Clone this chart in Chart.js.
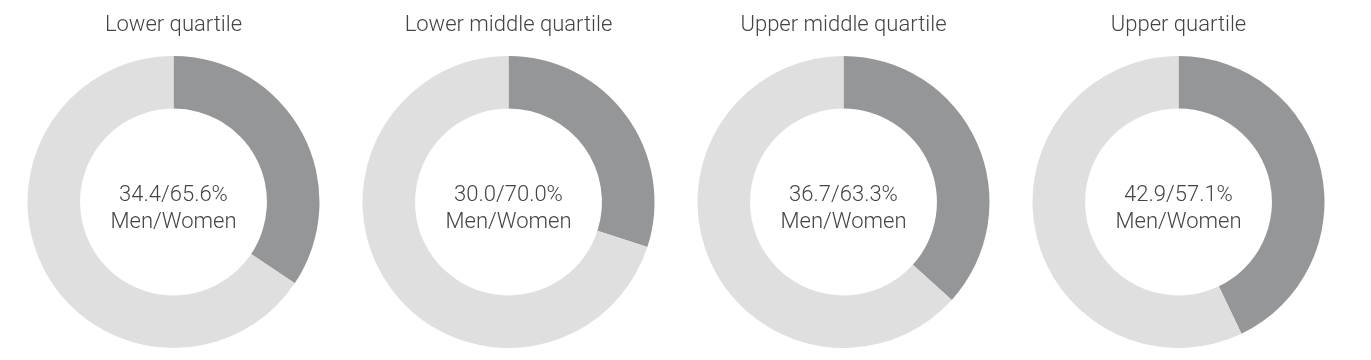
<!DOCTYPE html>
<html>
<head>
<meta charset="utf-8">
<script src="https://cdn.jsdelivr.net/npm/chart.js@4.4.0/dist/chart.umd.min.js"></script>
<style>
  html, body { margin: 0; padding: 0; background: #ffffff; }
  body { width: 1371px; height: 360px; position: relative; overflow: hidden; }
  .box { position: absolute; top: 0; width: 335px; height: 360px; }
</style>
</head>
<body>
<div class="box" style="left:5.5px"><canvas id="c0"></canvas></div>
<div class="box" style="left:340.5px"><canvas id="c1"></canvas></div>
<div class="box" style="left:675.5px"><canvas id="c2"></canvas></div>
<div class="box" style="left:1010.5px"><canvas id="c3"></canvas></div>
<script>
const quartiles = ["Lower quartile", "Lower middle quartile", "Upper middle quartile", "Upper quartile"];
const categories = ["Men", "Women"];
const menPct = [34.4, 30.0, 36.7, 42.9];
const womenPct = [65.6, 70.0, 63.3, 57.1];

const centerText = {
  id: 'centerText',
  afterDatasetsDraw(chart, args, opts) {
    const meta = chart.getDatasetMeta(0);
    const arc = meta.data[0];
    if (!arc) return;
    const ctx = chart.ctx;
    ctx.save();
    ctx.fillStyle = '#444444';
    ctx.font = '300 22px Roboto, "Open Sans", sans-serif';
    ctx.textAlign = 'center';
    ctx.textBaseline = 'middle';
    ctx.fillText(opts.line1, arc.x, arc.y - 7);
    ctx.fillText(opts.line2, arc.x, arc.y + 20);
    ctx.restore();
  }
};

quartiles.forEach((q, i) => {
  new Chart(document.getElementById('c' + i), {
    type: 'doughnut',
    data: {
      labels: categories,
      datasets: [{
        data: [menPct[i], womenPct[i]],
        backgroundColor: ['#959698', '#dfdfdf'],
        borderWidth: 0
      }]
    },
    options: {
      responsive: true,
      maintainAspectRatio: false,
      animation: false,
      cutout: '64%',
      layout: { padding: { top: 0, bottom: 12, left: 0, right: 0 } },
      plugins: {
        legend: { display: false },
        tooltip: { enabled: false },
        title: {
          display: true,
          text: q,
          color: '#444444',
          font: { family: 'Roboto, "Open Sans", sans-serif', size: 22, weight: '300' },
          padding: { top: 12, bottom: 17.6 }
        },
        centerText: {
          line1: menPct[i].toFixed(1) + '/' + womenPct[i].toFixed(1) + '%',
          line2: categories[0] + '/' + categories[1]
        }
      }
    },
    plugins: [centerText]
  });
});
</script>
</body>
</html>
